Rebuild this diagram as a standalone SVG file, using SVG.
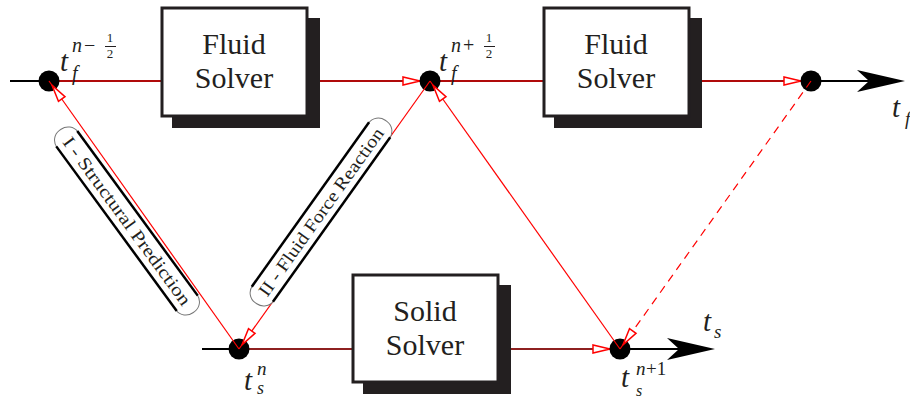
<svg xmlns="http://www.w3.org/2000/svg" width="910" height="399" viewBox="0 0 910 399">
<style>
.box{fill:#fff;stroke:#231f20;stroke-width:3}
.shadow{fill:#231f20}
.btxt{font-family:"Liberation Serif","Times New Roman",serif;font-size:30px;fill:#231f20;text-anchor:middle}
.mi{font-family:"Liberation Serif","Times New Roman",serif;font-style:italic;fill:#231f20}
.mn{font-family:"Liberation Serif","Times New Roman",serif;fill:#231f20}
.dot{fill:#000}
.axis{stroke:#000;stroke-width:2;fill:none}
.redtop{stroke:#b00a0a;stroke-width:2;fill:none}
.redbot{stroke:#8e2020;stroke-width:2;fill:none}
.diag{stroke:#ff0000;stroke-width:1.2;fill:none}
.dash{stroke:#ff0000;stroke-width:1.2;fill:none;stroke-dasharray:8 6}
.lbox{fill:#fff;stroke:#777;stroke-width:1}
.ledge{stroke:#000;stroke-width:2.5;fill:none}
.ltxt{font-family:"Liberation Serif","Times New Roman",serif;font-size:18px;fill:#231f20;text-anchor:middle}
</style>
<defs>
<marker id="hh" markerUnits="userSpaceOnUse" orient="auto" refX="10" refY="0" overflow="visible">
<path d="M0,0 L-17,-4 L-17,4 Z" fill="#fff" stroke="#ff0000" stroke-width="1.5"/>
</marker>
<marker id="hd" markerUnits="userSpaceOnUse" orient="auto" refX="5" refY="0" overflow="visible">
<path d="M0,0 L-17,-4 L-17,4 Z" fill="#fff" stroke="#ff0000" stroke-width="1.5"/>
</marker>
</defs>

<g id="connectors">
<line class="axis" x1="10" y1="81" x2="49" y2="81"/>
<line class="axis" x1="811" y1="81" x2="870" y2="81"/>
<path d="M905,81 L857,70 L869,81 L857,92 Z" fill="#000"/>
<line class="axis" x1="202" y1="349" x2="239" y2="349"/>
<line class="axis" x1="620" y1="349" x2="680" y2="349"/>
<path d="M715,349 L667,338 L679,349 L667,360 Z" fill="#000"/>
<line class="redtop" x1="49" y1="81" x2="169" y2="81"/>
<line class="redtop" x1="300" y1="81" x2="430" y2="81" marker-end="url(#hh)"/>
<line class="redtop" x1="430" y1="81" x2="551" y2="81"/>
<line class="redtop" x1="682" y1="81" x2="811" y2="81" marker-end="url(#hh)"/>
<line class="redbot" x1="239" y1="349" x2="360" y2="349"/>
<line class="redbot" x1="492" y1="349" x2="620" y2="349" marker-end="url(#hh)"/>
</g>

<g id="fluid-solver-1">
<rect class="shadow" x="172" y="18" width="148" height="110"/>
<rect class="box" x="162" y="8" width="145" height="108"/>
<text class="btxt" x="234" y="54">Fluid</text>
<text class="btxt" x="234" y="88">Solver</text>
</g>
<g id="fluid-solver-2">
<rect class="shadow" x="554" y="18" width="148" height="110"/>
<rect class="box" x="544" y="8" width="145" height="108"/>
<text class="btxt" x="616" y="54">Fluid</text>
<text class="btxt" x="616" y="88">Solver</text>
</g>
<g id="solid-solver">
<rect class="shadow" x="363" y="285" width="148" height="109"/>
<rect class="box" x="353" y="275" width="145" height="107"/>
<text class="btxt" x="425" y="321">Solid</text>
<text class="btxt" x="425" y="355">Solver</text>
</g>

<g id="t-f-n-minus-half">
<circle class="dot" cx="49" cy="81" r="10.5"/>
<text class="mi" x="60" y="71" font-size="29">t</text>
<text class="mi" x="72" y="80" font-size="20">f</text>
<text class="mi" x="72" y="52" font-size="20">n</text>
<text class="mn" x="84" y="52" font-size="20">−</text>
<text class="mn" x="110" y="42" font-size="13" text-anchor="middle">1</text>
<line x1="105" y1="46.5" x2="116" y2="46.5" stroke="#231f20" stroke-width="1"/>
<text class="mn" x="110" y="58" font-size="13" text-anchor="middle">2</text>
</g>
<g id="t-f-n-plus-half">
<circle class="dot" cx="430" cy="81" r="10.5"/>
<text class="mi" x="439" y="71" font-size="29">t</text>
<text class="mi" x="451" y="80" font-size="20">f</text>
<text class="mi" x="451" y="52" font-size="20">n</text>
<text class="mn" x="463" y="52" font-size="20">+</text>
<text class="mn" x="489" y="42" font-size="13" text-anchor="middle">1</text>
<line x1="484" y1="46.5" x2="495" y2="46.5" stroke="#231f20" stroke-width="1"/>
<text class="mn" x="489" y="58" font-size="13" text-anchor="middle">2</text>
</g>
<g id="t-f-end">
<circle class="dot" cx="811" cy="81" r="10.5"/>
<text class="mi" x="892" y="117" font-size="29">t</text>
<text class="mi" x="905" y="125" font-size="19">f</text>
</g>
<g id="t-s-n">
<circle class="dot" cx="239" cy="349" r="10.5"/>
<text class="mi" x="244" y="390" font-size="29">t</text>
<text class="mi" x="257" y="375" font-size="19">n</text>
<text class="mi" x="257" y="394" font-size="18">s</text>
</g>
<g id="t-s-n-plus-1">
<circle class="dot" cx="620" cy="349" r="10.5"/>
<text class="mi" x="621" y="387" font-size="29">t</text>
<text class="mi" x="636" y="375" font-size="19">n</text>
<text class="mn" x="646" y="375" font-size="19">+1</text>
<text class="mi" x="636" y="396" font-size="16">s</text>
</g>
<g id="t-s-end">
<text class="mi" x="703" y="331" font-size="29">t</text>
<text class="mi" x="714" y="338" font-size="19">s</text>
</g>

<g id="transfers">
<line class="diag" x1="239" y1="349" x2="49" y2="81" marker-end="url(#hd)"/>
<line class="diag" x1="430" y1="81" x2="239" y2="349" marker-end="url(#hd)"/>
<line class="diag" x1="620" y1="349" x2="430" y2="81" marker-end="url(#hd)"/>
<line class="dash" x1="811" y1="81" x2="620" y2="349" marker-end="url(#hd)"/>
</g>

<g id="label-structural-prediction" transform="translate(127,221) rotate(53.8)">
<rect class="lbox" x="-113" y="-13" width="226" height="26" rx="12"/>
<line class="ledge" x1="-102" y1="-13" x2="102" y2="-13"/>
<line class="ledge" x1="-102" y1="13" x2="102" y2="13"/>
<text class="ltxt" x="0" y="6" textLength="204" lengthAdjust="spacingAndGlyphs">I - Structural Prediction</text>
</g>
<g id="label-fluid-force-reaction" transform="translate(321,212) rotate(-54.5)">
<rect class="lbox" x="-112" y="-13" width="224" height="26" rx="12"/>
<line class="ledge" x1="-101" y1="-13" x2="101" y2="-13"/>
<line class="ledge" x1="-101" y1="13" x2="101" y2="13"/>
<text class="ltxt" x="0" y="6" textLength="202" lengthAdjust="spacingAndGlyphs">II - Fluid Force Reaction</text>
</g>
</svg>
